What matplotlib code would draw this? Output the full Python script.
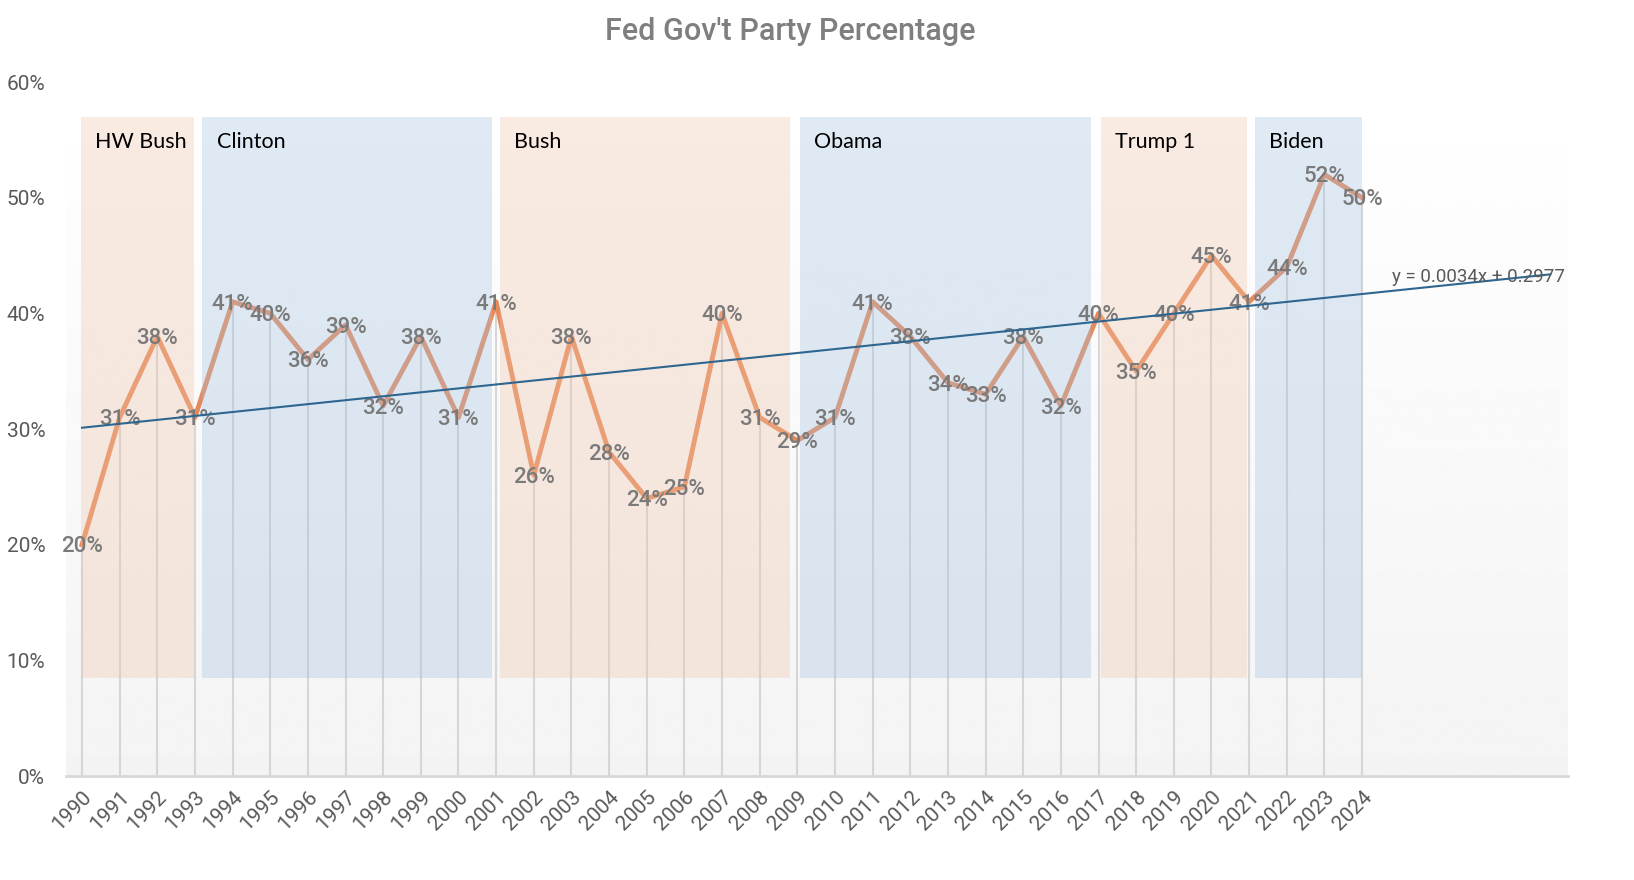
import numpy as np
import matplotlib
matplotlib.use("Agg")
import matplotlib.pyplot as plt

years = list(range(1990, 2025))
pct = [20, 31, 38, 31, 41, 40, 36, 39, 32, 38, 31, 41, 26, 38, 28, 24, 25, 40, 31, 29,
       31, 41, 38, 34, 33, 38, 32, 40, 35, 40, 45, 41, 44, 52, 50]

terms = ["HW Bush", "Clinton", "Bush", "Obama", "Trump 1", "Biden"]
term_start = [-0.03, 3.2, 11.1, 19.07, 27.07, 31.15]
term_end = [2.97, 10.9, 18.8, 26.8, 30.95, 34.0]
term_party = ["R", "D", "R", "D", "R", "D"]

slope, intercept = 0.0034, 0.2977

plt.rcParams['font.family'] = ['Roboto', 'DejaVu Sans']

fig = plt.figure(figsize=(16.34, 8.8), dpi=100)
ax = fig.add_axes([66 / 1634, 1 - 776 / 880, (1568 - 66) / 1634, (776 - 82) / 880])
x = np.arange(len(years))
ax.set_xlim(-0.425, 39.47)
ax.set_ylim(0, 0.6)

# background gradient
grad = np.linspace(0.945, 1.0, 256) ** 0.8
ax.imshow(grad.reshape(-1, 1), cmap='gray', vmin=0, vmax=1, aspect='auto', origin='lower',
          extent=[-0.425, 39.47, 0, 0.6], zorder=0)

# drop lines
vals = np.array(pct) / 100
ax.vlines(x, 0, vals, color='#d6d6d6', lw=1.5, zorder=1)

ax.plot(x, vals, color='#e8895a', lw=3.5, zorder=2, solid_joinstyle='round')

# presidency shading
shade = {"R": '#eec6ac', "D": '#a6c3e2'}
for name, s, e, p in zip(terms, term_start, term_end, term_party):
    ax.fill_between([s, e], 0.085, 0.57, color=shade[p], alpha=0.35, lw=0, zorder=3)
    ax.text(s + 0.38, 0.548, name, fontsize=15.5, color='black', va='center', ha='left',
            family=['Lato', 'DejaVu Sans'], zorder=4)

for xi, v in zip(x, vals):
    ax.text(xi, v - 0.002, f"{int(round(v * 100))}%", ha='center', va='center',
            fontsize=16, color='#7a7a7a', fontweight='medium', zorder=4)

# trend line
tx = np.array([0, 39])
ax.plot(tx, slope * (tx + 1) + intercept, color='#2e6690', lw=1.5, zorder=5)
ax.text(34.8, 0.427, "y = 0.0034x + 0.2977", fontsize=13.5, color='#595959', zorder=5)

ax.set_yticks(np.arange(0, 0.61, 0.1))
ax.set_yticklabels([f"{int(t * 100)}%" for t in np.arange(0, 0.61, 0.1).round(2)])
ax.set_xticks(x)
ax.set_xticklabels([str(y) for y in years], rotation=45, ha='right', rotation_mode='anchor')
ax.tick_params(axis='y', length=0, labelsize=15, labelcolor='#595959', pad=15)
ax.tick_params(axis='x', length=0, labelsize=15, labelcolor='#595959', pad=8)
for sp in ['top', 'right', 'left']:
    ax.spines[sp].set_visible(False)
ax.spines['bottom'].set_color('#d9d9d9')
ax.spines['bottom'].set_linewidth(2)
ax.spines['bottom'].set_zorder(6)

fig.text(790 / 1634, 1 - 32 / 880, "Fed Gov't Party Percentage", ha='center', va='center',
         fontsize=22, color='#7f7f7f', fontweight='medium')

fig.savefig("out.png", dpi=100)
